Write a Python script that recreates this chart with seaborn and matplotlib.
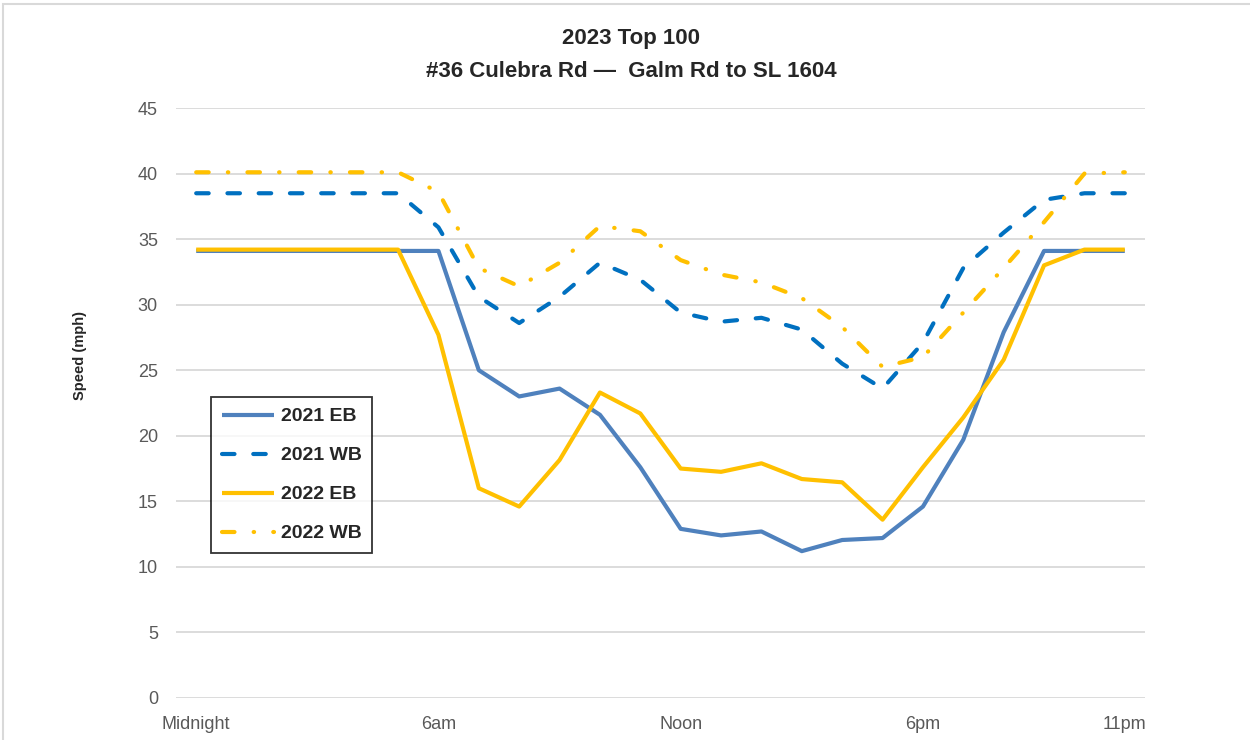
import numpy as np
import pandas as pd
import matplotlib.pyplot as plt
import matplotlib.patches as mpatches
import seaborn as sns

# hourly speeds (mph), midnight .. 11pm
hours = list(range(24))
eb_2021 = [34.1, 34.1, 34.1, 34.1, 34.1, 34.1, 34.1, 25.0, 23.0, 23.6, 21.6, 17.6,
           12.9, 12.4, 12.7, 11.2, 12.05, 12.2, 14.6, 19.7, 27.9, 34.1, 34.1, 34.1]
wb_2021 = [38.5, 38.5, 38.5, 38.5, 38.5, 38.5, 35.9, 30.6, 28.6, 30.6, 33.2, 31.9,
           29.4, 28.7, 29.0, 28.1, 25.5, 23.6, 27.1, 32.8, 35.5, 38.0, 38.5, 38.5]
eb_2022 = [34.2, 34.2, 34.2, 34.2, 34.2, 34.2, 27.7, 16.0, 14.6, 18.15, 23.3, 21.7,
           17.5, 17.25, 17.9, 16.7, 16.45, 13.6, 17.6, 21.4, 25.8, 33.0, 34.2, 34.2]
wb_2022 = [40.1, 40.1, 40.1, 40.1, 40.1, 40.1, 38.6, 32.8, 31.4, 33.2, 36.0, 35.6,
           33.4, 32.3, 31.7, 30.5, 28.3, 25.25, 26.0, 29.4, 32.8, 36.3, 40.0, 40.1]

tick_pos = [0, 6, 12, 18, 23]
tick_labels = ["Midnight", "6am", "Noon", "6pm", "11pm"]

sns.set_style("white")
plt.rcParams["font.family"] = ["Liberation Sans Narrow", "Liberation Sans", "DejaVu Sans"]

fig = plt.figure(figsize=(12.5, 7.4), dpi=100)
ax = fig.add_axes([0.1408, 0.0568, 0.7752, 0.7972])

series = [
    ("2021 EB", eb_2021, "#4F81BD", "-"),
    ("2021 WB", wb_2021, "#0070C0", (0, (3, 4.5))),
    ("2022 EB", eb_2022, "#FFC000", "-"),
    ("2022 WB", wb_2022, "#FFC000", (0, (3, 4.6, 0.1, 4.6))),
]
for name, vals, col, ls in series:
    sns.lineplot(x=hours, y=vals, ax=ax, color=col, linewidth=3, linestyle=ls,
                 label=name, dash_capstyle="round", solid_capstyle="butt")

ax.set_xlim(-0.5, 23.5)
ax.set_ylim(0, 45)
ax.set_yticks(range(0, 46, 5))
ax.set_xticks(tick_pos)
ax.set_xticklabels(tick_labels)
ax.grid(axis="y", color="#D9D9D9", linewidth=1.3)
ax.set_axisbelow(True)
for s in ax.spines.values():
    s.set_visible(False)
ax.tick_params(axis="both", length=0, labelsize=13, labelcolor="#595959")
ax.tick_params(axis="y", pad=13)
ax.tick_params(axis="x", pad=13)
ax.set_xlabel("")
ax.set_ylabel("Speed (mph)", fontsize=10.5, fontweight="bold")
ax.yaxis.set_label_coords(-0.092, 0.58)

leg = ax.legend(loc="upper left", bbox_to_anchor=(0.036, 0.51), borderaxespad=0,
                frameon=True, fancybox=False, handlelength=2.7, labelspacing=1.1,
                prop={"weight": "bold", "size": 14}, borderpad=0.55, handletextpad=0.35)
leg.get_frame().set_edgecolor("black")
leg.get_frame().set_linewidth(1.3)

fig.suptitle("2023 Top 100\n#36 Culebra Rd \u2014  Galm Rd to SL 1604", x=0.505, y=0.962,
             fontsize=16, fontweight="bold", linespacing=1.75)

fig.patches.append(mpatches.Rectangle((0.002, -0.01), 1.2, 1.005, transform=fig.transFigure,
                                      fill=False, edgecolor="#D9D9D9", linewidth=1.5))

fig.savefig("out.png", dpi=100)
